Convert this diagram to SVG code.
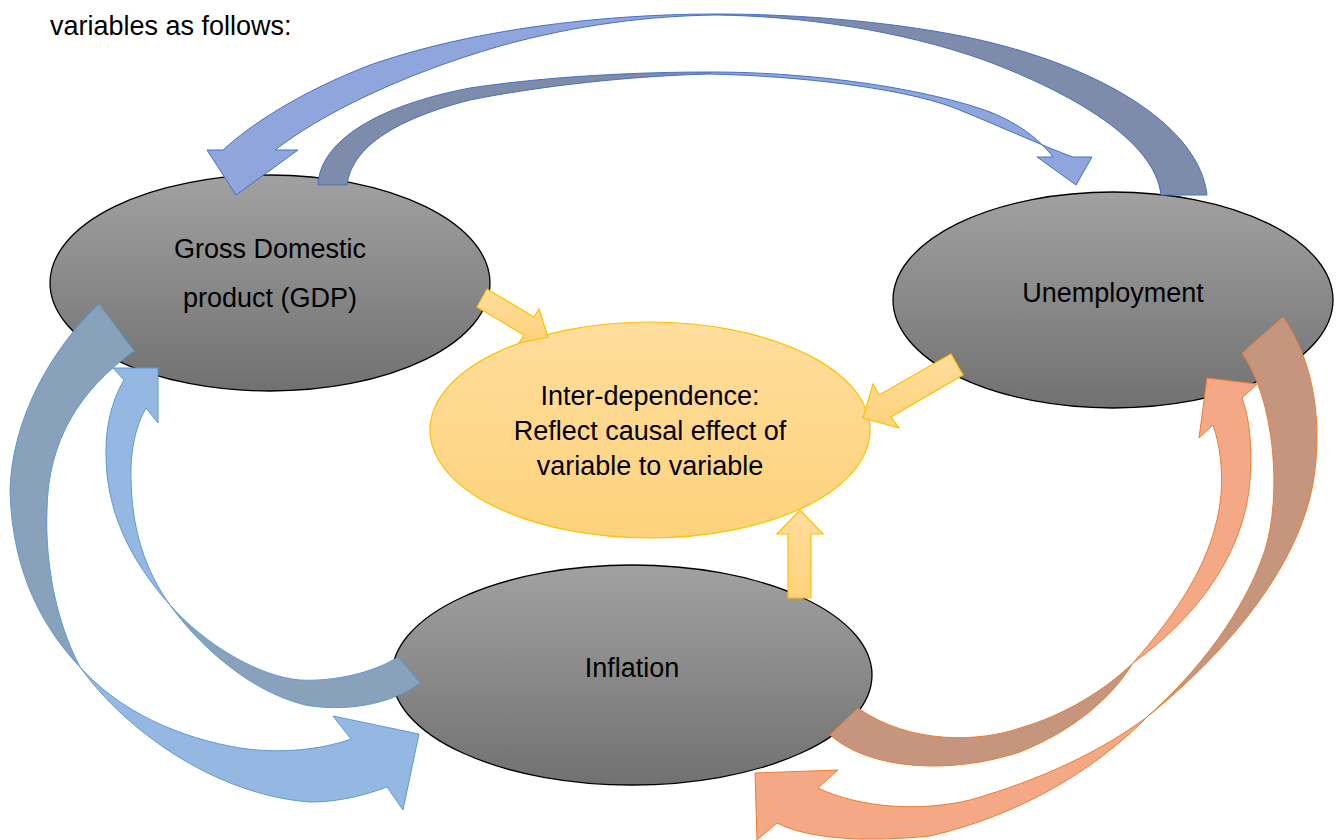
<svg xmlns="http://www.w3.org/2000/svg" width="1341" height="840" viewBox="0 0 1341 840">
<defs>
<linearGradient id="gray" x1="0" y1="0" x2="0" y2="1"><stop offset="0" stop-color="#a1a1a1"/><stop offset="1" stop-color="#717171"/></linearGradient>
<linearGradient id="gold" x1="0" y1="0" x2="0" y2="1"><stop offset="0" stop-color="#ffdd9c"/><stop offset="1" stop-color="#fdd27b"/></linearGradient>
<style>
.node{fill:url(#gray);stroke:#000;stroke-width:1.3}
.core{fill:url(#gold);stroke:#ffc000;stroke-width:1.2}
.lbl{font-family:"Liberation Sans",Arial,sans-serif;font-size:27px;fill:#000;text-anchor:middle}
.hdr{font-family:"Liberation Sans",Arial,sans-serif;font-size:27px;fill:#000}
.a-light{fill:#8fa5db;stroke:#4472c4;stroke-width:1}
.a-dark{fill:#7f8bab;stroke:#4472c4;stroke-width:1}
.b-light{fill:#95b8e3;stroke:#5b9bd5;stroke-width:1}
.b-dark{fill:#8aa1bb;stroke:#5b9bd5;stroke-width:1}
.c-light{fill:#f5a886;stroke:#ed7d31;stroke-width:1}
.c-dark{fill:#c6957e;stroke:#ed7d31;stroke-width:1}
.y{fill:url(#gold);stroke:#ffc000;stroke-width:1.2}
</style>
</defs>
<rect width="1341" height="840" fill="#fff"/>
<text class="hdr" x="50" y="35">variables as follows:</text>

<g id="node-gdp">
<ellipse class="node" cx="270" cy="283" rx="220" ry="108"/>
<text class="lbl" x="270" y="258">Gross Domestic</text>
<text class="lbl" x="270" y="307">product (GDP)</text>
</g>
<g id="node-unemployment">
<ellipse class="node" cx="1113" cy="300" rx="220" ry="108"/>
<text class="lbl" x="1113" y="302">Unemployment</text>
</g>
<g id="node-inflation">
<ellipse class="node" cx="632" cy="675" rx="240" ry="110"/>
<text class="lbl" x="632" y="677">Inflation</text>
</g>
<g id="node-interdependence">
<ellipse class="core" cx="650" cy="430" rx="220" ry="108"/>
<text class="lbl" x="650" y="405">Inter-dependence:</text>
<text class="lbl" x="650" y="440">Reflect causal effect of</text>
<text class="lbl" x="650" y="475">variable to variable</text>
</g>

<g id="connectors">
<g id="arrow-unemployment-gdp">
<path class="a-dark" d="M1207,195 C1200,130 1110,70 980,40 C900,22 800,14 716,14 L716,15 C800,16 900,30 984,60 C1070,92 1155,140 1161,195 Z"/>
<path class="a-light" d="M716,14 C600,14 470,30 370,65 C300,92 250,125 223,150 L207,150 L236,195 L298,150 L275,150 C320,115 400,75 500,46 C580,24 650,16 716,15 Z"/>
</g>
<g id="arrow-gdp-unemployment">
<path class="a-dark" d="M318,185 C320,140 380,105 470,88 C550,76 640,72 710,72 L710,74 C630,76 540,86 470,100 C400,118 352,145 347,185 Z"/>
<path class="a-light" d="M710,72 C820,72 930,90 990,112 C1020,124 1040,140 1053,157 L1037,157 L1076,185 L1092,157 L1073,157 C1045,147 990,122 952,107 C900,88 800,76 710,74 Z"/>
</g>
<g id="arrow-gdp-inflation">
<path class="b-dark" d="M99,304 C50,350 12,420 10,490 C12,575 45,630 80,667 C55,620 45,560 47,510 C48,440 80,390 134,351 Z"/>
<path class="b-light" d="M80,667 C125,730 215,795 310,802 C340,802 365,795 387,787 L403,810 L419,734 L333,716 L351,739 C320,750 280,754 240,748 C180,738 120,712 80,667 Z"/>
</g>
<g id="arrow-inflation-gdp">
<path class="b-dark" d="M398,657 C375,672 335,682 300,680 C260,677 205,645 170,605 C195,640 245,690 305,705 C345,712 390,705 420,683 Z"/>
<path class="b-light" d="M170,605 C130,560 105,510 106,450 C106,425 112,400 124,380 L113,368 L158,368 L158,423 L146,408 C136,425 130,450 131,480 C132,530 145,570 170,605 Z"/>
</g>
<g id="arrow-inflation-unemployment">
<path class="c-dark" d="M830,735 C870,770 950,775 1020,752 C1075,730 1112,697 1133,663 C1105,690 1065,715 1020,728 C980,742 910,745 858,708 Z"/>
<path class="c-light" d="M1133,663 C1175,615 1215,560 1221,495 C1223,470 1220,445 1213,425 L1199,438 L1207,378 L1257,384 L1242,398 C1250,420 1252,445 1250,480 C1245,550 1200,615 1133,663 Z"/>
</g>
<g id="arrow-unemployment-inflation">
<path class="c-dark" d="M1283,317 C1310,355 1322,410 1315,470 C1305,560 1230,650 1147,717 C1200,670 1245,610 1265,550 C1282,495 1275,400 1242,353 Z"/>
<path class="c-light" d="M1147,717 C1100,752 1040,780 970,800 C920,812 860,808 818,788 L838,770 L755,773 L757,840 L777,823 C810,840 870,842 930,836 C1020,815 1095,770 1147,717 Z"/>
</g>
<path id="arrow-gdp-core" class="y" d="M487,289 L534,317 L539,309 L548,337 L519,343 L524,335 L477,307 Z"/>
<path id="arrow-unemployment-core" class="y" d="M951,354 L879,395 L873,384 L863,418 L899,428 L891,417 L963,375 Z"/>
<path id="arrow-inflation-core" class="y" d="M788,598 L788,534 L777,534 L800,510 L823,534 L811,534 L811,598 Z"/>
</g>
</svg>
